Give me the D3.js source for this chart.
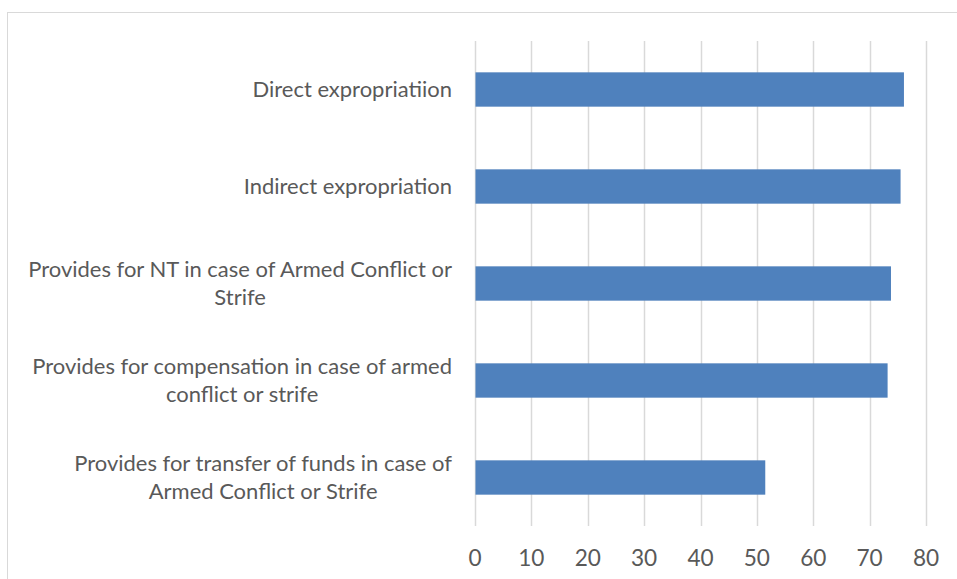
<!DOCTYPE html>
<html>
<head>
<meta charset="utf-8">
<script src="https://cdn.jsdelivr.net/npm/d3@7"></script>
<style>
  html, body { margin: 0; padding: 0; background: #ffffff; }
  svg { display: block; }
</style>
</head>
<body>
<svg id="chart" width="957" height="579"></svg>
<script>
const categories = [
  "Direct expropriatiion",
  "Indirect expropriation",
  "Provides for NT in case of Armed Conflict or Strife",
  "Provides for compensation in case of armed conflict or strife",
  "Provides for transfer of funds in case of Armed Conflict or Strife"
];
const labelLines = [
  ["Direct expropriatiion"],
  ["Indirect expropriation"],
  ["Provides for NT in case of Armed Conflict or", "Strife"],
  ["Provides for compensation in case of armed", "conflict or strife"],
  ["Provides for transfer of funds in case of", "Armed Conflict or Strife"]
];
const values = [76.0, 75.4, 73.7, 73.1, 51.4];
const xTicks = [0, 10, 20, 30, 40, 50, 60, 70, 80];

const svg = d3.select("#chart");
const FONT = "Lato, 'Open Sans', sans-serif";
const textColor = "#595959";
const gridColor = "#d9d9d9";

// outer chart border
svg.append("rect")
  .attr("x", 7.5).attr("y", 12.5)
  .attr("width", 980).attr("height", 600)
  .attr("fill", "#ffffff")
  .attr("stroke", gridColor).attr("stroke-width", 1);

const x = d3.scaleLinear().domain([0, 80]).range([475, 926]);
const y = d3.scaleBand().domain(categories).range([41, 526])
  .paddingInner(0.646).paddingOuter(0.323);

// gridlines
svg.append("g").selectAll("line").data(xTicks).join("line")
  .attr("x1", d => Math.round(x(d)) + 0.5).attr("x2", d => Math.round(x(d)) + 0.5)
  .attr("y1", y.range()[0]).attr("y2", y.range()[1])
  .attr("stroke", gridColor).attr("stroke-width", 1.5);

// bars
svg.append("g").selectAll("rect").data(values).join("rect")
  .attr("x", x(0) + 0.5)
  .attr("y", (d, i) => y(categories[i]))
  .attr("width", d => x(d) - x(0))
  .attr("height", y.bandwidth())
  .attr("fill", "#4f81bd");

// measure font size so the longest line matches reference width (~424px)
const probe = svg.append("text").attr("font-family", FONT).attr("font-size", 20)
  .text("Provides for NT in case of Armed Conflict or");
const w20 = probe.node().getComputedTextLength();
probe.remove();
const fs = 20 * 424 / w20;

// category labels
const lineH = 28.3;
const labelRight = 452;
const lg = svg.append("g").attr("font-family", FONT).attr("font-size", fs).attr("fill", textColor);
labelLines.forEach((lines, i) => {
  const cy = y(categories[i]) + y.bandwidth() / 2;
  const t = lg.append("text").attr("text-anchor", "middle");
  const ts = lines.map((ln, j) => t.append("tspan")
    .attr("y", cy + (j - (lines.length - 1) / 2) * lineH + 7.5)
    .text(ln));
  const maxW = d3.max(ts, s => s.node().getComputedTextLength());
  ts.forEach(s => s.attr("x", labelRight - maxW / 2));
});

// x tick labels
svg.append("g").attr("font-family", FONT).attr("font-size", fs * 1.03).attr("fill", textColor)
  .selectAll("text").data(xTicks).join("text")
  .attr("x", d => x(d)).attr("y", 565.5)
  .attr("text-anchor", "middle")
  .text(d => d);
</script>
</body>
</html>
